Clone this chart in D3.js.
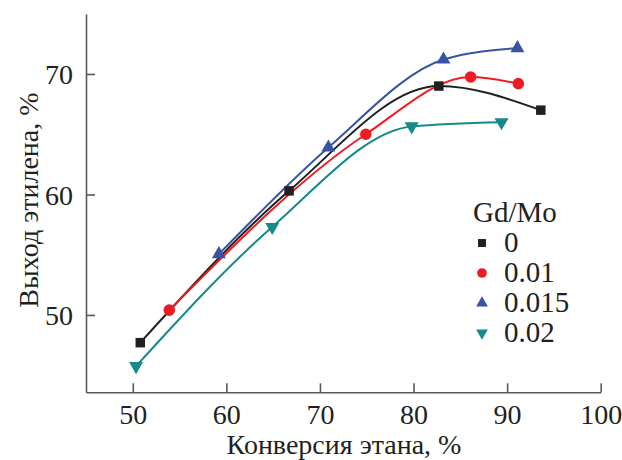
<!DOCTYPE html>
<html>
<head>
<meta charset="utf-8">
<script src="https://cdn.jsdelivr.net/npm/d3@7"></script>
</head>
<body style="margin:0;background:#fff">
<svg id="chart" width="622" height="460" font-family="Liberation Serif"></svg>
<script>
// Ethylene yield vs. ethane conversion for different Gd/Mo ratios
const seriesNames = ["0", "0.01", "0.015", "0.02"];
const conv0    = [50.8, 66.7, 82.7, 93.6];
const yield0   = [47.7, 60.3, 69.0, 67.0];
const conv001  = [53.9, 74.9, 86.1, 91.2];
const yield001 = [50.4, 65.0, 69.75, 69.2];
const conv0015  = [59.2, 70.9, 83.2, 91.1];
const yield0015 = [55.05, 63.9, 71.2, 72.15];
const conv002  = [50.35, 64.9, 79.8, 89.4];
const yield002 = [45.75, 57.3, 65.65, 66.0];
const xTicks = [50, 60, 70, 80, 90, 100];
const yTicks = [50, 60, 70];

const colors = ["#231f20", "#ed1c24", "#3953a4", "#16898a"];
const symbols = [d3.symbolSquare, d3.symbolCircle, d3.symbolTriangle, d3.symbolTriangle];
const symSize = [90, 105, 85, 85];
const symRot = [0, 0, 0, 180];

const FONT = "Liberation Serif";
const textColor = "#231f20";

const series = [
  { name: seriesNames[0], x: conv0, y: yield0 },
  { name: seriesNames[1], x: conv001, y: yield001 },
  { name: seriesNames[2], x: conv0015, y: yield0015 },
  { name: seriesNames[3], x: conv002, y: yield002 }
];

const svg = d3.select("#chart");
const x = d3.scaleLinear().domain([45, 100]).range([86, 600.7]);
const y = d3.scaleLinear().domain([43.58, 74.98]).range([392.3, 14]);

const axisColor = "#58595b";

// Axes with inward ticks
const gx = svg.append("g").attr("transform", `translate(0,${y.range()[0]})`)
  .call(d3.axisBottom(x).tickValues(xTicks).tickSizeInner(-9).tickSizeOuter(0).tickPadding(12));
const gy = svg.append("g").attr("transform", `translate(${x.range()[0]},0)`)
  .call(d3.axisLeft(y).tickValues(yTicks).tickSizeInner(-9).tickSizeOuter(0).tickPadding(13));
[gx, gy].forEach(g => {
  g.attr("font-family", FONT).attr("font-size", 28);
  g.select(".domain").attr("stroke", axisColor).attr("stroke-width", 1.6);
  g.selectAll(".tick line").attr("stroke", axisColor).attr("stroke-width", 1.6);
  g.selectAll(".tick text").attr("font-family", FONT).attr("font-size", 28).attr("fill", textColor);
});
gx.selectAll(".tick text").attr("dy", "0.71em");
gy.selectAll(".tick text").attr("dy", "0.34em");

// Axis titles
svg.append("text").attr("x", 344).attr("y", 454).attr("text-anchor", "middle")
  .attr("font-family", FONT).attr("font-size", 28).attr("fill", textColor)
  .text("Конверсия этана, %");
svg.append("text").attr("transform", "translate(38,200) rotate(-90)").attr("text-anchor", "middle")
  .attr("font-family", FONT).attr("font-size", 28).attr("fill", textColor)
  .text("Выход этилена, %");

// Smooth curves, then markers on top
const line = d3.line().x(d => x(d[0])).y(d => y(d[1])).curve(d3.curveMonotoneX);
series.forEach((s, i) => {
  const pts = s.x.map((v, k) => [v, s.y[k]]);
  svg.append("path").datum(pts).attr("d", line)
    .attr("fill", "none").attr("stroke", colors[i]).attr("stroke-width", 2);
});
series.forEach((s, i) => {
  const pts = s.x.map((v, k) => [v, s.y[k]]);
  svg.append("g").selectAll("path").data(pts).join("path")
    .attr("d", d3.symbol().type(symbols[i]).size(symSize[i]))
    .attr("transform", d => `translate(${x(d[0])},${y(d[1])}) rotate(${symRot[i]})`)
    .attr("fill", colors[i]);
});

// Legend
const lg = svg.append("g").attr("transform", "translate(473,0)");
lg.append("text").attr("x", 0).attr("y", 222)
  .attr("font-family", FONT).attr("font-size", 29).attr("fill", textColor)
  .text("Gd/Mo");
series.forEach((s, i) => {
  const cy = 243 + i * 30;
  lg.append("path")
    .attr("d", d3.symbol().type(symbols[i]).size(symSize[i] * 0.7))
    .attr("transform", `translate(9,${cy}) rotate(${symRot[i]})`)
    .attr("fill", colors[i]);
  lg.append("text").attr("x", 31).attr("y", cy + 9)
    .attr("font-family", FONT).attr("font-size", 29).attr("fill", textColor)
    .text(s.name);
});
</script>
</body>
</html>
